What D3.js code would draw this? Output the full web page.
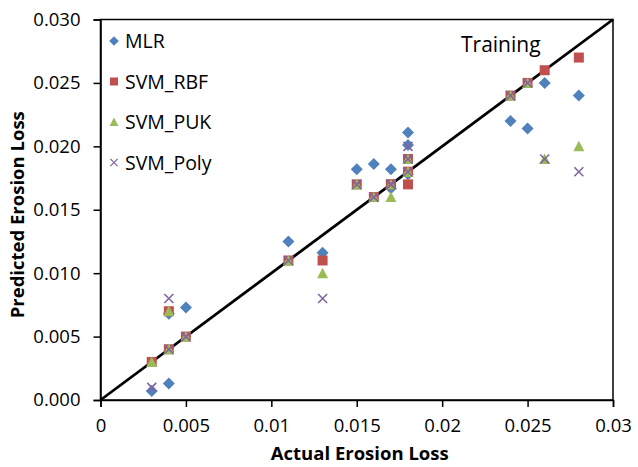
<!DOCTYPE html>
<html>
<head>
<meta charset="utf-8">
<script src="https://cdn.jsdelivr.net/npm/d3@7"></script>
<style>
body { margin: 0; background: #fff; }
text { font-family: "Open Sans", sans-serif; }
</style>
</head>
<body>
<script>
// actual erosion loss (shared x for all models)
var actual = [0.003, 0.004, 0.004, 0.005, 0.011, 0.013, 0.015, 0.016, 0.017, 0.017, 0.018, 0.018, 0.018, 0.024, 0.025, 0.026, 0.028];
// predicted values, per model
var mlr    = [0.0007, 0.0013, 0.0068, 0.0073, 0.0125, 0.0116, 0.0182, 0.0186, 0.0182, 0.0167, 0.0211, 0.0201, 0.0178, 0.0220, 0.0214, 0.0250, 0.0240];
var svmRbf = [0.003, 0.004, 0.007, 0.005, 0.011, 0.011, 0.017, 0.016, 0.017, 0.017, 0.019, 0.018, 0.017, 0.024, 0.025, 0.026, 0.027];
var svmPuk = [0.003, 0.004, 0.007, 0.005, 0.011, 0.010, 0.017, 0.016, 0.017, 0.016, 0.019, 0.018, 0.018, 0.024, 0.025, 0.019, 0.020];
var svmPoly = [0.001, 0.004, 0.008, 0.005, 0.011, 0.008, 0.017, 0.016, 0.017, 0.017, 0.020, 0.019, 0.018, 0.024, 0.025, 0.019, 0.018];

var seriesNames = ["MLR", "SVM_RBF", "SVM_PUK", "SVM_Poly"];
var xTicks = [0, 0.005, 0.01, 0.015, 0.02, 0.025, 0.03];
var xTickLabels = ["0", "0.005", "0.01", "0.015", "0.02", "0.025", "0.03"];
var yTicks = [0, 0.005, 0.01, 0.015, 0.02, 0.025, 0.03];
var yTickLabels = ["0.000", "0.005", "0.010", "0.015", "0.020", "0.025", "0.030"];

var series = [
	{name: seriesNames[0], values: mlr, shape: "diamond", color: "#4F81BD"},
	{name: seriesNames[1], values: svmRbf, shape: "square", color: "#C0504D"},
	{name: seriesNames[2], values: svmPuk, shape: "triangle", color: "#9BBB59"},
	{name: seriesNames[3], values: svmPoly, shape: "cross", color: "#8064A2"}
];

var W = 638, H = 467;
var pLeft = 100.5, pRight = 613, pTop = 19.5, pBottom = 400;

var svg = d3.select("body").append("svg").attr("width", W).attr("height", H);

var x = d3.scaleLinear().domain([0, 0.03]).range([pLeft, pRight]);
var y = d3.scaleLinear().domain([0, 0.03]).range([pBottom, pTop]);

// plot border
svg.append("rect")
	.attr("x", pLeft).attr("y", pTop)
	.attr("width", pRight - pLeft).attr("height", pBottom - pTop)
	.attr("fill", "none").attr("stroke", "#000").attr("stroke-width", 1.5);

// axes
var xAxis = svg.append("g").attr("transform", "translate(0," + pBottom + ")")
	.call(d3.axisBottom(x).tickValues(xTicks).tickSize(7).tickPadding(12)
		.tickFormat(function(d, i){ return xTickLabels[i]; }));
var yAxis = svg.append("g").attr("transform", "translate(" + pLeft + ",0)")
	.call(d3.axisLeft(y).tickValues(yTicks).tickSize(7).tickPadding(13)
		.tickFormat(function(d, i){ return yTickLabels[i]; }));
[xAxis, yAxis].forEach(function(a){
	a.select(".domain").attr("stroke", "#000").attr("stroke-width", 1.5);
	a.selectAll(".tick line").attr("stroke", "#000").attr("stroke-width", 1.5);
	a.selectAll(".tick text").attr("fill", "#000").style("font-size", "18.5px")
		.style("font-family", "'Open Sans', sans-serif");
});

// 1:1 line
svg.append("line")
	.attr("x1", x(0)).attr("y1", y(0))
	.attr("x2", x(0.03)).attr("y2", y(0.03))
	.attr("stroke", "#000").attr("stroke-width", 2.8);

function marker(g, shape, color){
	if (shape == "diamond") {
		g.append("path").attr("d", "M0,-6L6,0L0,6L-6,0Z").attr("fill", color);
	} else if (shape == "square") {
		g.append("rect").attr("x", -5).attr("y", -5).attr("width", 10).attr("height", 10).attr("fill", color);
	} else if (shape == "triangle") {
		g.append("path").attr("d", "M0,-5.5L5.5,5L-5.5,5Z").attr("fill", color);
	} else {
		g.append("path").attr("d", "M-4.5,-4.5L4.5,4.5M-4.5,4.5L4.5,-4.5")
			.attr("stroke", color).attr("stroke-width", 1.6).attr("fill", "none");
	}
}

// points
series.forEach(function(s){
	svg.append("g").selectAll("g")
		.data(s.values)
		.enter()
		.append("g")
		.attr("transform", function(d, i){ return "translate(" + x(actual[i]) + "," + y(d) + ")"; })
		.each(function(){ marker(d3.select(this), s.shape, s.color); });
});

// legend
series.forEach(function(s, i){
	var g = svg.append("g").attr("transform", "translate(114," + (41 + i * 40.5) + ")");
	var m = g.append("g").attr("transform", "scale(0.8)");
	marker(m, s.shape, s.color);
	g.append("text").attr("x", 11).attr("y", 7).style("font-size", "19.5px").text(s.name);
});

svg.append("text").attr("x", 461).attr("y", 52).style("font-size", "21px").text("Training");

// axis titles
svg.append("text")
	.attr("x", (pLeft + pRight) / 2 + 3).attr("y", 460)
	.attr("text-anchor", "middle").style("font-size", "18.5px").style("font-weight", "bold")
	.text("Actual Erosion Loss");
svg.append("text")
	.attr("transform", "translate(24," + ((pTop + pBottom) / 2 + 5) + ") rotate(-90)")
	.attr("text-anchor", "middle").style("font-size", "18.5px").style("font-weight", "bold")
	.text("Predicted Erosion Loss");
</script>
</body>
</html>
